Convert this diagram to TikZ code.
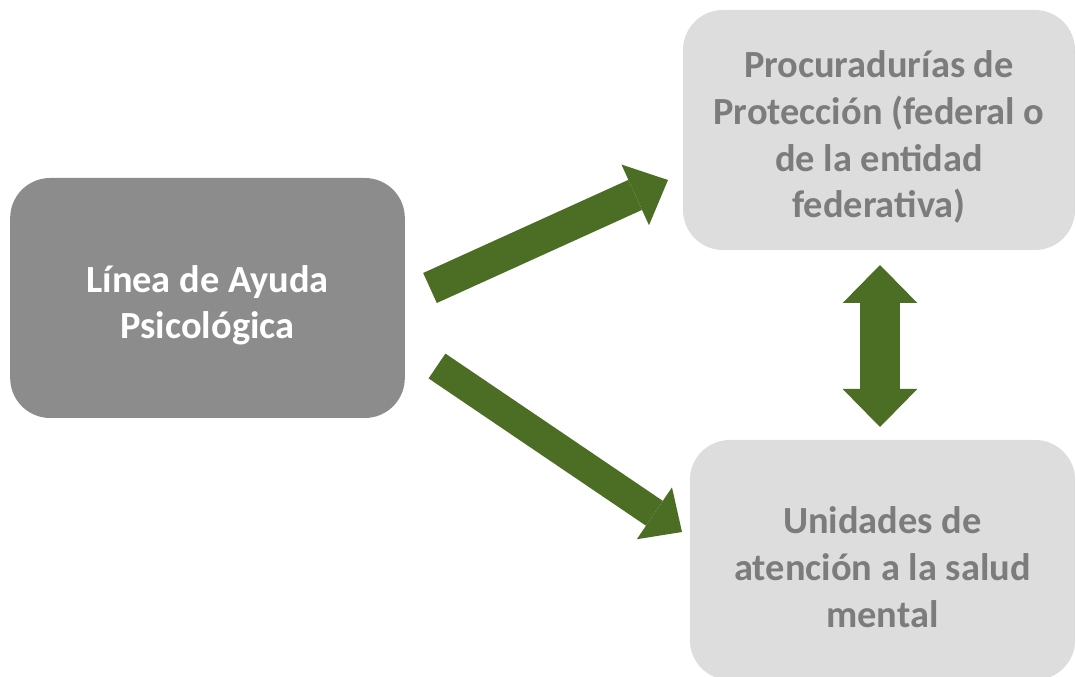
\documentclass[tikz,border=0pt]{standalone}
\usepackage{fontspec}
\setmainfont{Carlito}
\usetikzlibrary{arrows.meta}
\definecolor{boxdark}{HTML}{8C8C8C}
\definecolor{boxlight}{HTML}{DDDDDD}
\definecolor{txtgray}{HTML}{7C7C7C}
\definecolor{arrgreen}{HTML}{4B6E24}
\tikzset{
  box/.style={rounded corners=30pt, inner sep=0pt},
  darkbox/.style={box, fill=boxdark},
  lightbox/.style={box, fill=boxlight},
  boxtext/.style={inner sep=0pt, align=center, yshift=-5.5pt,
    font=\fontsize{28.8}{35}\selectfont\bfseries},
  darktext/.style={boxtext, text=white},
  lighttext/.style={boxtext, text=txtgray},
  bigarrow/.style={draw=arrgreen, line cap=butt}
}
\begin{document}
\begin{tikzpicture}[x=0.75pt,y=-0.75pt]
\useasboundingbox (0,0) rectangle (1076,677);
\node[darkbox, minimum width=296pt, minimum height=180pt] (L) at (207.5,298) {};
\node[darktext] (Lt) at (L) {Línea de Ayuda\\Psicológica};
\node[lightbox, minimum width=294pt, minimum height=180pt] (P) at (879,130) {};
\node[lighttext] (Pt) at (P)
  {Procuradurías de\\Protección (federal o\\de la entidad\\federativa)};
\node[lightbox, minimum width=289pt, minimum height=180pt] (U) at (882.5,560) {};
\node[lighttext] (Ut) at (U) {Unidades de\\atención a la salud\\mental};
\coordinate (a1s) at (430,288);
\coordinate (a1e) at (668,180);
\coordinate (a2s) at (437,366);
\coordinate (a2e) at (682,532);
\coordinate (a3s) at (880,265);
\coordinate (a3e) at (880,427);
\draw[bigarrow, line width=24.75pt,
  -{Triangle[width=50pt,length=27pt,line width=0pt]}] (a1s) -- (a1e);
\draw[bigarrow, line width=22.5pt,
  -{Triangle[width=47pt,length=25pt,line width=0pt]}] (a2s) -- (a2e);
\draw[bigarrow, line width=30pt,
  {Triangle[width=56pt,length=28.5pt,line width=0pt]}-{Triangle[width=56pt,length=28.5pt,line width=0pt]}] (a3s) -- (a3e);
\end{tikzpicture}
\end{document}
